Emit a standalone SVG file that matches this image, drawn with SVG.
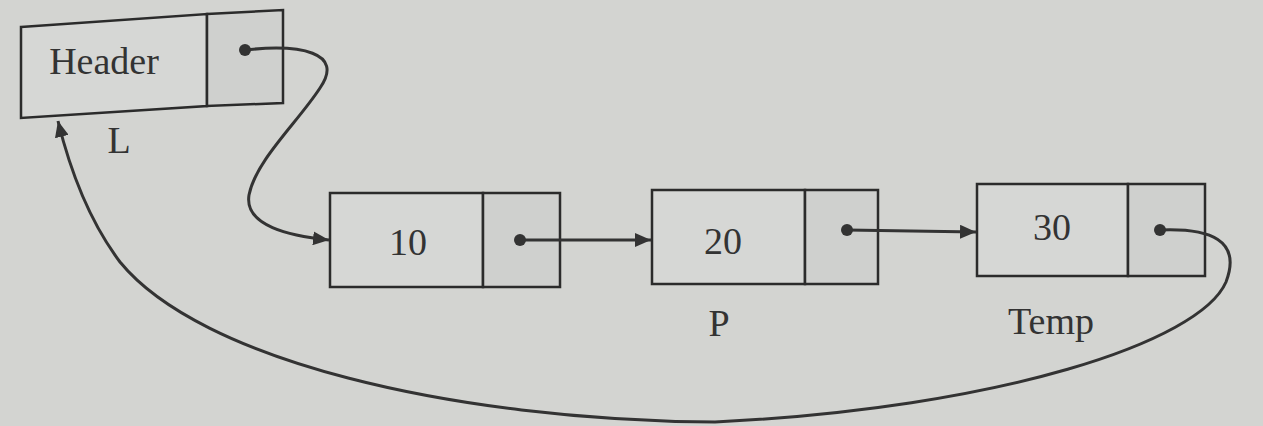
<svg xmlns="http://www.w3.org/2000/svg" width="1263" height="426" viewBox="0 0 1263 426">
<style>
.box{fill:#d6d7d5;stroke:#2b2b2b;stroke-width:2.5}
.ptr{fill:#cfd0ce;stroke:#2b2b2b;stroke-width:2.5}
.lbl{font-family:"Liberation Serif",serif;font-size:38px;fill:#333;text-anchor:middle}
.con{fill:none;stroke:#333;stroke-width:3}
.dot{fill:#333}
</style>
<defs>
<marker id="ah" markerUnits="userSpaceOnUse" markerWidth="18" markerHeight="14" refX="16" refY="7" orient="auto">
<path d="M0,0 L16,7 L0,14 z" fill="#333"/>
</marker>
</defs>
<rect x="0" y="0" width="1263" height="426" fill="#d3d4d1"/>
<g id="node-header">
<path class="box" d="M21,27 L207,14 L207,106 L21,118 Z"/>
<path class="ptr" d="M207,14 L283,10 L283,103 L207,106 Z"/>
<text class="lbl" x="104" y="74" font-size="35">Header</text>
<text class="lbl" x="119" y="153">L</text>
</g>
<g id="node-10">
<rect class="box" x="330" y="193" width="153" height="94"/>
<rect class="ptr" x="483" y="193" width="77" height="94"/>
<text class="lbl" x="408" y="255">10</text>
</g>
<g id="node-20">
<rect class="box" x="652" y="190" width="153" height="94"/>
<rect class="ptr" x="805" y="190" width="73" height="94"/>
<text class="lbl" x="723" y="254">20</text>
<text class="lbl" x="719" y="336">P</text>
</g>
<g id="node-30">
<rect class="box" x="977" y="184" width="151" height="92"/>
<rect class="ptr" x="1128" y="184" width="77" height="92"/>
<text class="lbl" x="1052" y="240">30</text>
<text class="lbl" x="1051" y="334" font-size="40">Temp</text>
</g>
<g id="connectors">
<path class="con" d="M245,50 C300,44 345,52 320,88 C298,122 256,160 249,195 C244,226 290,236 329,240" marker-end="url(#ah)"/>
<path class="con" d="M520,240 L651,240" marker-end="url(#ah)"/>
<path class="con" d="M847,230 L976,232" marker-end="url(#ah)"/>
<path class="con" d="M1160,230 C1210,228 1242,240 1226,282 C1200,342 1000,408 715,422 C450,420 200,360 120,262 C90,222 70,170 58,121" marker-end="url(#ah)"/>
<circle class="dot" cx="245" cy="50" r="6"/>
<circle class="dot" cx="520" cy="240" r="6"/>
<circle class="dot" cx="847" cy="230" r="6"/>
<circle class="dot" cx="1160" cy="230" r="6"/>
</g>
</svg>
